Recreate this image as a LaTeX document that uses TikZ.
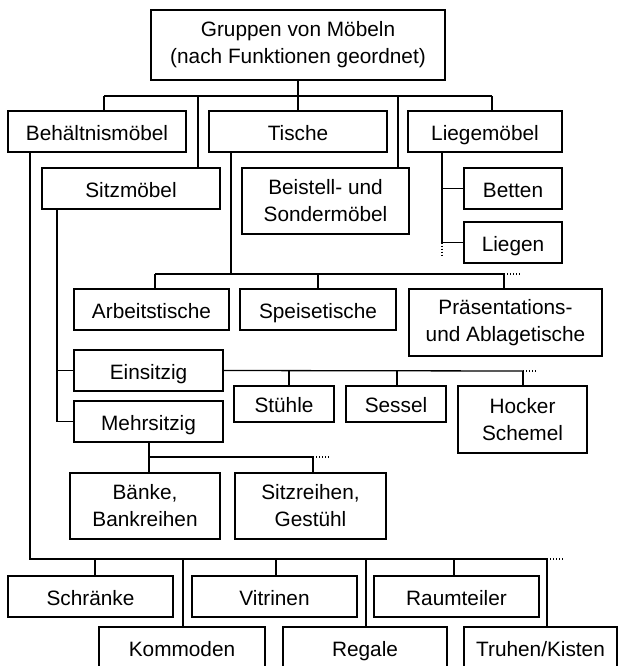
\documentclass[tikz,border=0pt]{standalone}
\usepackage{fontspec}
\setmainfont{Liberation Sans}
\begin{document}
\begin{tikzpicture}[x=1pt,y=-1pt,
  box/.style={draw, line width=1.3pt, inner sep=0pt, align=center,
    font=\fontsize{20.8}{27}\selectfont},
  bx/.style 2 args={box, minimum width=#1pt, minimum height=#2pt},
  one/.style={text height=17pt, text depth=0pt},
  con/.style={line width=1.3pt},
  more/.style={line width=1.2pt, dash pattern=on 1.2pt off 1.8pt}]
\useasboundingbox (0,0) rectangle (618,666);
% nodes
\node[bx={294}{70}] (root) at (298,45) {Gruppen von Möbeln\\(nach Funktionen geordnet)};
\node[bx={178}{41},one] (beh) at (97,131.5) {Behältnismöbel};
\node[bx={178}{41},one] (tis) at (298,131.5) {Tische};
\node[bx={154}{41},one] (lie) at (485,131.5) {Liegemöbel};
\node[bx={178}{41},one] (sitz) at (131,188.5) {Sitzmöbel};
\node[bx={167}{66}] (beis) at (325.5,201) {Beistell- und\\Sondermöbel};
\node[bx={98}{41},one] (bet) at (513,188.5) {Betten};
\node[bx={98}{41},one] (lieg) at (513,242.5) {Liegen};
\node[bx={155}{41},one] (arb) at (151.5,309.5) {Arbeitstische};
\node[bx={156}{41},one] (spe) at (318,309.5) {Speisetische};
\node[bx={193}{67}] (pra) at (505.5,322.5) {Präsentations-\\und Ablagetische};
\node[bx={149}{41},one] (ein) at (148.5,370.5) {Einsitzig};
\node[bx={149}{41},one] (mehr) at (148.5,421.5) {Mehrsitzig};
\node[bx={100}{36},one] (stu) at (284,404) {Stühle};
\node[bx={100}{36},one] (ses) at (396,404) {Sessel};
\node[bx={129}{67}] (hoc) at (522.5,419.5) {Hocker\\Schemel};
\node[bx={150}{66}] (ban) at (145,506) {Bänke,\\Bankreihen};
\node[bx={151}{66}] (sitzr) at (310.5,506) {Sitzreihen,\\Gestühl};
\node[bx={165}{41},one] (schr) at (90.5,596.5) {Schränke};
\node[bx={165}{41},one] (vit) at (274.5,596.5) {Vitrinen};
\node[bx={165}{41},one] (rau) at (456.5,596.5) {Raumteiler};
\node[bx={166}{41},one] (kom) at (182,647.5) {Kommoden};
\node[bx={164}{41},one] (reg) at (365,647.5) {Regale};
\node[bx={153}{41},one] (tru) at (540.5,647.5) {Truhen/Kisten};
% root bus
\coordinate (r0) at (298,96);
\coordinate (rL) at (104,96);
\coordinate (rS) at (198,96);
\coordinate (rB) at (398,96);
\coordinate (rR) at (492,96);
\draw[con] (root.south) -- (r0);
\draw[con] (rL) -- (rR);
\draw[con] (rL) -- (rL |- beh.north);
\draw[con] (rS) -- (rS |- sitz.north);
\draw[con] (r0) -- (tis.north);
\draw[con] (rB) -- (rB |- beis.north);
\draw[con] (rR) -- (rR |- lie.north);
% Liegemoebel
\coordinate (lS) at (442,152);
\draw[con] (lS |- lie.south) -- (lS |- lieg.west) -- (lieg.west);
\draw[con] (lS |- bet.west) -- (bet.west);
\coordinate (lE) at (442,255);
\draw[more] (lS |- lieg.west) -- (lE);
% Tische
\coordinate (tS) at (231,274);
\coordinate (tL) at (155,274);
\coordinate (tM) at (318,274);
\coordinate (tR) at (504,274);
\coordinate (tE) at (520,274);
\draw[con] (tS |- tis.south) -- (tS);
\draw[con] (tL) -- (tR);
\draw[more] (tR) -- (tE);
\draw[con] (tL) -- (tL |- arb.north);
\draw[con] (tM) -- (tM |- spe.north);
\draw[con] (tR) -- (tR |- pra.north);
% Sitzmoebel
\coordinate (sS) at (57,209);
\draw[con] (sS |- sitz.south) -- (sS |- mehr.west) -- (mehr.west);
\draw[con] (sS |- ein.west) -- (ein.west);
% Einsitzig
\coordinate (e1) at (289,371);
\coordinate (e2) at (397,371);
\coordinate (e3) at (523,371);
\coordinate (eE) at (537,371);
\draw[con] (ein.east) -- (e3);
\draw[more] (e3) -- (eE);
\draw[con] (e1) -- (e1 |- stu.north);
\draw[con] (e2) -- (e2 |- ses.north);
\draw[con] (e3) -- (e3 |- hoc.north);
% Mehrsitzig
\coordinate (m1) at (149,457);
\coordinate (m2) at (313,457);
\coordinate (mE) at (330,457);
\draw[con] (m1 |- mehr.south) -- (m1) -- (m2);
\draw[more] (m2) -- (mE);
\draw[con] (m1) -- (m1 |- ban.north);
\draw[con] (m2) -- (m2 |- sitzr.north);
% Behaeltnismoebel
\coordinate (b0) at (30,559);
\coordinate (b1) at (95,559);
\coordinate (b2) at (183,559);
\coordinate (b3) at (276,559);
\coordinate (b4) at (366,559);
\coordinate (b5) at (454,559);
\coordinate (b6) at (547,559);
\coordinate (bE) at (563,559);
\draw[con] (b0 |- beh.south) -- (b0) -- (b6);
\draw[more] (b6) -- (bE);
\draw[con] (b1) -- (b1 |- schr.north);
\draw[con] (b2) -- (b2 |- kom.north);
\draw[con] (b3) -- (b3 |- vit.north);
\draw[con] (b4) -- (b4 |- reg.north);
\draw[con] (b5) -- (b5 |- rau.north);
\draw[con] (b6) -- (b6 |- tru.north);
\end{tikzpicture}
\end{document}
